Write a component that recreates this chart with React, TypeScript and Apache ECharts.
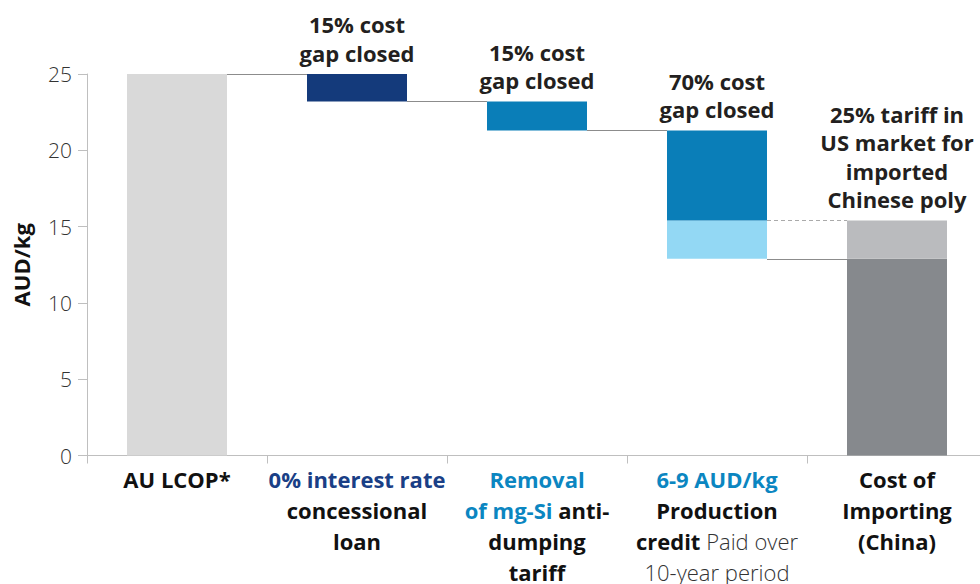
import React, { useEffect, useRef } from "react";
import * as echarts from "echarts";

const categories = [
  "{k|AU LCOP*}",
  "{n|0% interest rate}\n{k|concessional}\n{k|loan}",
  "{b|Removal}\n{b|of mg-Si }{k|anti-}\n{k|dumping}\n{k|tariff}",
  "{b|6-9 AUD/kg}\n{k|Production}\n{k|credit }{l|Paid over}\n{l|10-year period}",
  "{k|Cost of}\n{k|Importing}\n{k|(China)}",
];

// Waterfall levels (AUD/kg)
const segStart = [0, 23.2, 21.3, 12.9, 0];
const segSplit: (number | null)[] = [null, null, null, 15.4, 12.9];
const segEnd = [25, 25, 23.2, 21.3, 15.4];

const lowerColors = ["#d9d9d9", "#143a7b", "#0a7eb8", "#93d8f4", "#86898d"];
const upperColors = ["#d9d9d9", "#143a7b", "#0a7eb8", "#0a7eb8", "#babbbe"];

const annotations = [
  "",
  "15% cost\ngap closed",
  "15% cost\ngap closed",
  "70% cost\ngap closed",
  "25% tariff in\nUS market for\nimported\nChinese poly",
];

// connectors: [fromIndex, level, toIndex, dashed]
const connectors = [
  [0, 25, 1, 0],
  [1, 23.2, 2, 0],
  [2, 21.3, 3, 0],
  [3, 12.9, 4, 0],
  [3, 15.4, 4, 1],
];

const yTicks = { min: 0, max: 25, interval: 5 };

const FONT = "'Open Sans', sans-serif";
const BAR_W = 100;

export default function App() {
  const ref = useRef<HTMLDivElement>(null);
  useEffect(() => {
    document.body.style.margin = "0";
    if (!ref.current) return;
    const chart = echarts.init(ref.current, undefined, { renderer: "svg" });

    const base = segStart.map((s) => s);
    const lower = segStart.map((s, i) => {
      const top = segSplit[i] ?? segEnd[i];
      return top - s;
    });
    const upper = segStart.map((_, i) => {
      const sp = segSplit[i];
      return sp == null ? 0 : segEnd[i] - sp;
    });

    const annLabel = (text: string) => ({
      show: text !== "",
      position: "top",
      distance: 7,
      formatter: text,
      fontFamily: FONT,
      fontWeight: "bold",
      fontSize: 22,
      lineHeight: 28.5,
      color: "#231f20",
      align: "center",
    });

    const option: any = {
      animation: false,
      textStyle: { fontFamily: FONT },
      grid: {
        left: 87,
        top: 74,
        width: 900,
        height: 381.5,
        containLabel: false,
        outerBoundsMode: "none",
      },
      xAxis: {
        type: "category",
        data: categories,
        boundaryGap: true,
        axisLine: { show: true, lineStyle: { color: "#bfbfbf", width: 1 } },
        axisTick: { show: true, length: 8, lineStyle: { color: "#bfbfbf" } },
        axisLabel: {
          interval: 0,
          margin: 8,
          lineHeight: 31,
          fontFamily: FONT,
          fontSize: 22,
          hideOverlap: false,
          rich: {
            k: { fontFamily: FONT, fontSize: 22, fontWeight: "bold", color: "#111111", lineHeight: 31, align: "center" },
            n: { fontFamily: FONT, fontSize: 22, fontWeight: "bold", color: "#1a3f86", lineHeight: 31, align: "center" },
            b: { fontFamily: FONT, fontSize: 22, fontWeight: "bold", color: "#0b86c1", lineHeight: 31, align: "center" },
            l: { fontFamily: FONT, fontSize: 22, fontWeight: 300, color: "#333333", lineHeight: 31, align: "center" },
          },
        },
      },
      yAxis: {
        type: "value",
        min: yTicks.min,
        max: yTicks.max,
        interval: yTicks.interval,
        name: "AUD/kg",
        nameLocation: "middle",
        nameRotate: 90,
        nameGap: 55,
        nameTextStyle: { fontFamily: FONT, fontWeight: "bold", fontSize: 22, color: "#111111" },
        axisLine: { show: true, lineStyle: { color: "#bfbfbf", width: 1 } },
        axisTick: { show: true, length: 9, lineStyle: { color: "#bfbfbf" } },
        axisLabel: { margin: 15, fontFamily: FONT, fontWeight: 300, fontSize: 21, color: "#333333" },
        splitLine: { show: false },
      },
      series: [
        {
          type: "bar",
          stack: "w",
          barWidth: BAR_W,
          silent: true,
          itemStyle: { color: "transparent" },
          data: base,
        },
        {
          type: "bar",
          stack: "w",
          barWidth: BAR_W,
          data: lower.map((v, i) => ({
            value: v,
            itemStyle: { color: lowerColors[i] },
            label: segSplit[i] == null ? annLabel(annotations[i]) : { show: false },
          })),
        },
        {
          type: "bar",
          stack: "w",
          barWidth: BAR_W,
          data: upper.map((v, i) => ({
            value: v,
            itemStyle: { color: upperColors[i] },
            label: segSplit[i] != null ? annLabel(annotations[i]) : { show: false },
          })),
        },
        {
          type: "custom",
          silent: true,
          encode: { x: 0, y: 1 },
          data: connectors,
          renderItem: (params: any, api: any) => {
            const from = api.value(0);
            const lvl = api.value(1);
            const to = api.value(2);
            const dashed = api.value(3);
            const p1 = api.coord([from, lvl]);
            const p2 = api.coord([to, lvl]);
            const y = Math.round(p1[1]) + 0.5;
            return {
              type: "line",
              shape: { x1: p1[0] + BAR_W / 2, y1: y, x2: p2[0] - BAR_W / 2, y2: y },
              style: {
                stroke: dashed ? "#aaaaaa" : "#8c8c8c",
                lineWidth: 1,
                lineDash: dashed ? [4, 3] : null,
              },
            };
          },
        },
      ],
    };
    chart.setOption(option);
    return () => chart.dispose();
  }, []);
  return <div ref={ref} style={{ width: 980, height: 584, overflow: "hidden" }} />;
}
